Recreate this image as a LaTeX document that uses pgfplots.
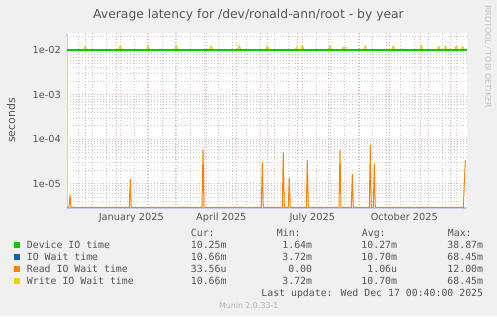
\documentclass[border=0pt]{standalone}
\usepackage{fontspec}
\setmainfont{DejaVu Sans}
\newfontfamily\monofont{DejaVu Sans Mono}
\usepackage{pgfplots}
\pgfplotsset{compat=1.18}
\definecolor{bgc}{HTML}{F0F0F0}
\definecolor{txt}{HTML}{555555}
\definecolor{wmc}{HTML}{C4C4C4}
\definecolor{footc}{HTML}{B4B4B4}
\definecolor{axc}{HTML}{C8CCF0}
\definecolor{mgrid}{HTML}{F4AAAA}
\definecolor{ngrid}{HTML}{CACACA}
\definecolor{cgreen}{HTML}{00CC00}
\definecolor{cblue}{HTML}{0066B3}
\definecolor{corange}{HTML}{FF8000}
\definecolor{cyellow}{HTML}{FFCC00}
\newcommand\lgf{\monofont\fontsize{9.9}{11}\selectfont}
\pgfplotstableread{
x y
-49.3 0.0102
-32.5 0.0102
-31 0.0121
-29.5 0.0102
2.5 0.0102
4 0.0121
5.5 0.0102
30.5 0.0102
32 0.0121
33.5 0.0102
58.5 0.0102
60 0.0121
61.5 0.0102
93.5 0.0102
95 0.0121
96.5 0.0102
121.5 0.0102
123 0.0121
124.5 0.0102
149.5 0.0102
151 0.0121
152.5 0.0102
179 0.0102
180.4 0.0113
181.8 0.0102
184.5 0.0102
186 0.0123
187.5 0.0102
212.2 0.0102
213.7 0.0121
215.2 0.0102
226 0.0102
227 0.0114
229.5 0.0114
230.5 0.0102
247.5 0.0102
249 0.0121
250.5 0.0102
275.5 0.0102
277 0.0121
278.5 0.0102
303.5 0.0102
305 0.0123
306.5 0.0102
321 0.0102
322.4 0.0118
323.8 0.0102
328 0.0102
329.4 0.0118
330.8 0.0102
338.5 0.0102
340 0.0121
341.5 0.0102
345 0.0102
346.4 0.0118
347.8 0.0102
350.7 0.0102
}\waittable
\pgfplotstableread{
x y
-49.3 0.01025
0 0.01025
100 0.01025
200 0.01025
300 0.01025
350.7 0.01025
}\devtable
\begin{document}
\begin{tikzpicture}[x=1bp,y=1bp]
\fill[bgc] (0,0) rectangle (497,316);
\begin{axis}[
  at={(67bp,108bp)}, anchor=south west, scale only axis,
  width=400bp, height=175bp,
  xmin=-49.3, xmax=350.7,
  ymode=log, ymin=2.84e-6, ymax=0.0241,
  axis lines=left,
  axis line style={color=axc, line width=0.8bp},
  axis background/.style={fill=white},
  major tick length=0pt, minor tick length=0pt,
  xtick={-31,0,31,59,90,120,151,181,212,243,273,304,334},
  xticklabels={},
  minor xtick={-38,-24,-10,4,18,32,46,60,74,88,102,116,130,144,158,172,186,200,214,228,242,256,270,284,298,312,326,340},
  extra x ticks={15,105,196,288},
  extra x tick labels={\mbox{January 2025},\mbox{April 2025},\mbox{July 2025},\mbox{October 2025}},
  extra x tick style={xmajorgrids=false, xminorgrids=false},
  ytick={1e-5,1e-4,1e-3,1e-2},
  yticklabels={\mbox{1e-05},\mbox{1e-04},\mbox{1e-03},\mbox{1e-02}},
  minor ytick={3e-6,4e-6,5e-6,6e-6,7e-6,8e-6,9e-6,2e-5,3e-5,4e-5,5e-5,6e-5,7e-5,8e-5,9e-5,2e-4,3e-4,4e-4,5e-4,6e-4,7e-4,8e-4,9e-4,2e-3,3e-3,4e-3,5e-3,6e-3,7e-3,8e-3,9e-3,2e-2},
  xmajorgrids, xminorgrids, ymajorgrids, yminorgrids,
  major grid style={color=mgrid, line width=0.7bp, dash pattern=on 1bp off 2bp},
  minor grid style={color=ngrid, line width=0.6bp, dash pattern=on 1bp off 2bp},
  xticklabel style={anchor=base, inner sep=0pt, yshift=-12bp, text=txt, font=\fontsize{9.8}{10}\selectfont},
  yticklabel style={anchor=east, inner sep=0pt, xshift=-6bp, text=txt, font=\fontsize{9.8}{10}\selectfont},
  ylabel={seconds},
  every axis y label/.style={at={(rel axis cs:-0.14,0.5)}, rotate=90, anchor=center, text=txt, font=\fontsize{11}{12}\selectfont},
  clip=true,
]
% IO Wait time (blue): same values as Write IO Wait time, hidden under it
\addplot[color=cblue, line width=0.5bp] table[x=x,y=y] {\waittable};
% Write IO Wait time (yellow)
\addplot[color=cyellow, line width=1.2bp] table[x=x,y=y] {\waittable};
% Read IO Wait time (orange)
\addplot[color=corange, line width=1bp] coordinates {
(-49.3,2.95e-6) (-47.3,2.95e-6) (-46.3,5.6e-6) (-45.3,2.95e-6)
(13,2.95e-6) (14,1.28e-5) (15,2.95e-6)
(85.7,2.95e-6) (86.7,5.7e-5) (87.7,2.95e-6)
(145,2.95e-6) (146,3.0e-5) (147,2.95e-6)
(166,2.95e-6) (167,5.1e-5) (168,2.95e-6)
(172,2.95e-6) (173,1.34e-5) (174,2.95e-6)
(190,2.95e-6) (191,3.4e-5) (192,2.95e-6)
(222.7,2.95e-6) (223.7,5.7e-5) (224.7,2.95e-6)
(235,2.95e-6) (236,1.65e-5) (237,2.95e-6)
(253,2.95e-6) (254,7.4e-5) (255,2.95e-6)
(257,2.95e-6) (258,2.8e-5) (259,2.95e-6)
(347,2.95e-6) (349,3.356e-5)
};
% Device IO time (green)
\addplot[color=cgreen, line width=2bp] table[x=x,y=y] {\devtable};
\end{axis}
% title
\node[anchor=base, inner sep=0pt, text=txt, font=\fontsize{12.4}{14}\selectfont] at (248.5,297.7) {Average latency for /dev/ronald-ann/root - by year};
% watermark
\node[rotate=-90, inner sep=0pt, text=wmc, font=\fontsize{8}{9}\selectfont] at (488,259.5) {RRDTOOL / TOBI OETIKER};
% legend
\begin{scope}[every node/.style={inner sep=0pt, text=txt, font=\lgf}]
\node[anchor=base west] at (190.7,79.3) {Cur:};
\node[anchor=base west] at (276.7,79.3) {Min:};
\node[anchor=base west] at (361.7,79.3) {Avg:};
\node[anchor=base west] at (447.7,79.3) {Max:};
\fill[cgreen] (14,68.3) rectangle (20,74.3);
\fill[cblue] (14,56.3) rectangle (20,62.3);
\fill[corange] (14,44.3) rectangle (20,50.3);
\fill[cyellow] (14,32.3) rectangle (20,38.3);
\node[anchor=base west] at (26.7,67.3) {Device IO time};
\node[anchor=base west] at (26.7,55.3) {IO Wait time};
\node[anchor=base west] at (26.7,43.3) {Read IO Wait time};
\node[anchor=base west] at (26.7,31.3) {Write IO Wait time};
\node[anchor=base east] at (226.7,67.3) {10.25m};
\node[anchor=base east] at (312.3,67.3) {1.64m};
\node[anchor=base east] at (397.3,67.3) {10.27m};
\node[anchor=base east] at (483.3,67.3) {38.87m};
\node[anchor=base east] at (226.7,55.3) {10.66m};
\node[anchor=base east] at (312.3,55.3) {3.72m};
\node[anchor=base east] at (397.3,55.3) {10.70m};
\node[anchor=base east] at (483.3,55.3) {68.45m};
\node[anchor=base east] at (226.7,43.3) {33.56u};
\node[anchor=base east] at (312.3,43.3) {0.00};
\node[anchor=base east] at (397.3,43.3) {1.06u};
\node[anchor=base east] at (483.3,43.3) {12.00m};
\node[anchor=base east] at (226.7,31.3) {10.66m};
\node[anchor=base east] at (312.3,31.3) {3.72m};
\node[anchor=base east] at (397.3,31.3) {10.70m};
\node[anchor=base east] at (483.3,31.3) {68.45m};
\node[anchor=base east] at (483.3,19.3) {Last update: Wed Dec 17 00:40:00 2025};
\end{scope}
\node[anchor=base, inner sep=0pt, text=footc, font=\fontsize{7.9}{9}\selectfont] at (248.7,7.7) {Munin 2.0.33-1};
\pgfresetboundingbox
\path (0,0) rectangle (497,316);
\end{tikzpicture}
\end{document}
